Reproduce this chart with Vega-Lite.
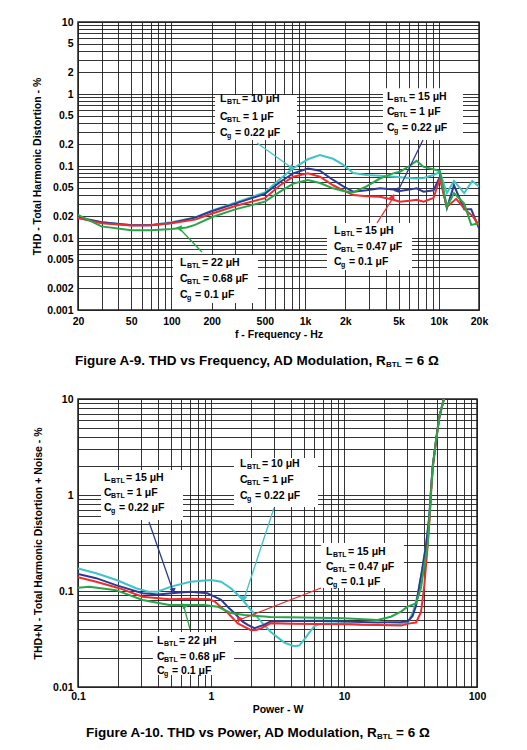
{
  "$schema": "https://vega.github.io/schema/vega-lite/v6.json",
  "background": "white",
  "padding": {"left": 31, "top": 16, "right": 5, "bottom": 5},
  "spacing": 89,
  "bounds": "flush",
  "datasets": {
    "topCurves": [
      {"config": "10µH/1µF/0.22µF", "freq": 20, "thd": 0.019},
      {"config": "10µH/1µF/0.22µF", "freq": 30, "thd": 0.0165},
      {"config": "10µH/1µF/0.22µF", "freq": 50, "thd": 0.0152},
      {"config": "10µH/1µF/0.22µF", "freq": 70, "thd": 0.0152},
      {"config": "10µH/1µF/0.22µF", "freq": 100, "thd": 0.0165},
      {"config": "10µH/1µF/0.22µF", "freq": 150, "thd": 0.0192},
      {"config": "10µH/1µF/0.22µF", "freq": 200, "thd": 0.024},
      {"config": "10µH/1µF/0.22µF", "freq": 300, "thd": 0.031},
      {"config": "10µH/1µF/0.22µF", "freq": 500, "thd": 0.043},
      {"config": "10µH/1µF/0.22µF", "freq": 650, "thd": 0.066},
      {"config": "10µH/1µF/0.22µF", "freq": 815, "thd": 0.093},
      {"config": "10µH/1µF/0.22µF", "freq": 1050, "thd": 0.124},
      {"config": "10µH/1µF/0.22µF", "freq": 1290, "thd": 0.142},
      {"config": "10µH/1µF/0.22µF", "freq": 1620, "thd": 0.126},
      {"config": "10µH/1µF/0.22µF", "freq": 1930, "thd": 0.104},
      {"config": "10µH/1µF/0.22µF", "freq": 2290, "thd": 0.08},
      {"config": "10µH/1µF/0.22µF", "freq": 2880, "thd": 0.075},
      {"config": "10µH/1µF/0.22µF", "freq": 3630, "thd": 0.073},
      {"config": "10µH/1µF/0.22µF", "freq": 4570, "thd": 0.071},
      {"config": "10µH/1µF/0.22µF", "freq": 6030, "thd": 0.068},
      {"config": "10µH/1µF/0.22µF", "freq": 6820, "thd": 0.067},
      {"config": "10µH/1µF/0.22µF", "freq": 7700, "thd": 0.068},
      {"config": "10µH/1µF/0.22µF", "freq": 9140, "thd": 0.075},
      {"config": "10µH/1µF/0.22µF", "freq": 10200, "thd": 0.083},
      {"config": "10µH/1µF/0.22µF", "freq": 11500, "thd": 0.042},
      {"config": "10µH/1µF/0.22µF", "freq": 13000, "thd": 0.062},
      {"config": "10µH/1µF/0.22µF", "freq": 15500, "thd": 0.042},
      {"config": "10µH/1µF/0.22µF", "freq": 17800, "thd": 0.062},
      {"config": "10µH/1µF/0.22µF", "freq": 20000, "thd": 0.052},
      {"config": "15µH/1µF/0.22µF", "freq": 20, "thd": 0.0195},
      {"config": "15µH/1µF/0.22µF", "freq": 30, "thd": 0.0165},
      {"config": "15µH/1µF/0.22µF", "freq": 50, "thd": 0.015},
      {"config": "15µH/1µF/0.22µF", "freq": 70, "thd": 0.015},
      {"config": "15µH/1µF/0.22µF", "freq": 100, "thd": 0.0162},
      {"config": "15µH/1µF/0.22µF", "freq": 150, "thd": 0.0192},
      {"config": "15µH/1µF/0.22µF", "freq": 200, "thd": 0.0235},
      {"config": "15µH/1µF/0.22µF", "freq": 300, "thd": 0.03},
      {"config": "15µH/1µF/0.22µF", "freq": 500, "thd": 0.041},
      {"config": "15µH/1µF/0.22µF", "freq": 650, "thd": 0.06},
      {"config": "15µH/1µF/0.22µF", "freq": 815, "thd": 0.079},
      {"config": "15µH/1µF/0.22µF", "freq": 1050, "thd": 0.092},
      {"config": "15µH/1µF/0.22µF", "freq": 1290, "thd": 0.086},
      {"config": "15µH/1µF/0.22µF", "freq": 1620, "thd": 0.064},
      {"config": "15µH/1µF/0.22µF", "freq": 1930, "thd": 0.052},
      {"config": "15µH/1µF/0.22µF", "freq": 2290, "thd": 0.044},
      {"config": "15µH/1µF/0.22µF", "freq": 2880, "thd": 0.046},
      {"config": "15µH/1µF/0.22µF", "freq": 3630, "thd": 0.049},
      {"config": "15µH/1µF/0.22µF", "freq": 4570, "thd": 0.047},
      {"config": "15µH/1µF/0.22µF", "freq": 5120, "thd": 0.045},
      {"config": "15µH/1µF/0.22µF", "freq": 6030, "thd": 0.047},
      {"config": "15µH/1µF/0.22µF", "freq": 6820, "thd": 0.049},
      {"config": "15µH/1µF/0.22µF", "freq": 7700, "thd": 0.044},
      {"config": "15µH/1µF/0.22µF", "freq": 9140, "thd": 0.046},
      {"config": "15µH/1µF/0.22µF", "freq": 10200, "thd": 0.071},
      {"config": "15µH/1µF/0.22µF", "freq": 11500, "thd": 0.026},
      {"config": "15µH/1µF/0.22µF", "freq": 13000, "thd": 0.054},
      {"config": "15µH/1µF/0.22µF", "freq": 15500, "thd": 0.025},
      {"config": "15µH/1µF/0.22µF", "freq": 17500, "thd": 0.025},
      {"config": "15µH/1µF/0.22µF", "freq": 20000, "thd": 0.0136},
      {"config": "15µH/0.47µF/0.1µF", "freq": 20, "thd": 0.019},
      {"config": "15µH/0.47µF/0.1µF", "freq": 30, "thd": 0.016},
      {"config": "15µH/0.47µF/0.1µF", "freq": 50, "thd": 0.0149},
      {"config": "15µH/0.47µF/0.1µF", "freq": 70, "thd": 0.015},
      {"config": "15µH/0.47µF/0.1µF", "freq": 100, "thd": 0.016},
      {"config": "15µH/0.47µF/0.1µF", "freq": 150, "thd": 0.018},
      {"config": "15µH/0.47µF/0.1µF", "freq": 200, "thd": 0.0217},
      {"config": "15µH/0.47µF/0.1µF", "freq": 300, "thd": 0.0278},
      {"config": "15µH/0.47µF/0.1µF", "freq": 500, "thd": 0.0357},
      {"config": "15µH/0.47µF/0.1µF", "freq": 650, "thd": 0.054},
      {"config": "15µH/0.47µF/0.1µF", "freq": 815, "thd": 0.071},
      {"config": "15µH/0.47µF/0.1µF", "freq": 1050, "thd": 0.079},
      {"config": "15µH/0.47µF/0.1µF", "freq": 1290, "thd": 0.071},
      {"config": "15µH/0.47µF/0.1µF", "freq": 1620, "thd": 0.054},
      {"config": "15µH/0.47µF/0.1µF", "freq": 1930, "thd": 0.046},
      {"config": "15µH/0.47µF/0.1µF", "freq": 2290, "thd": 0.0395},
      {"config": "15µH/0.47µF/0.1µF", "freq": 2880, "thd": 0.038},
      {"config": "15µH/0.47µF/0.1µF", "freq": 3630, "thd": 0.0375},
      {"config": "15µH/0.47µF/0.1µF", "freq": 4570, "thd": 0.034},
      {"config": "15µH/0.47µF/0.1µF", "freq": 5120, "thd": 0.032},
      {"config": "15µH/0.47µF/0.1µF", "freq": 6030, "thd": 0.033},
      {"config": "15µH/0.47µF/0.1µF", "freq": 6820, "thd": 0.034},
      {"config": "15µH/0.47µF/0.1µF", "freq": 7700, "thd": 0.032},
      {"config": "15µH/0.47µF/0.1µF", "freq": 9140, "thd": 0.036},
      {"config": "15µH/0.47µF/0.1µF", "freq": 10200, "thd": 0.067},
      {"config": "15µH/0.47µF/0.1µF", "freq": 11500, "thd": 0.027},
      {"config": "15µH/0.47µF/0.1µF", "freq": 13500, "thd": 0.035},
      {"config": "15µH/0.47µF/0.1µF", "freq": 16000, "thd": 0.024},
      {"config": "15µH/0.47µF/0.1µF", "freq": 18000, "thd": 0.02},
      {"config": "15µH/0.47µF/0.1µF", "freq": 20000, "thd": 0.015},
      {"config": "22µH/0.68µF/0.1µF", "freq": 20, "thd": 0.021},
      {"config": "22µH/0.68µF/0.1µF", "freq": 30, "thd": 0.0145},
      {"config": "22µH/0.68µF/0.1µF", "freq": 50, "thd": 0.0128},
      {"config": "22µH/0.68µF/0.1µF", "freq": 70, "thd": 0.0128},
      {"config": "22µH/0.68µF/0.1µF", "freq": 100, "thd": 0.0133},
      {"config": "22µH/0.68µF/0.1µF", "freq": 130, "thd": 0.014},
      {"config": "22µH/0.68µF/0.1µF", "freq": 150, "thd": 0.0152},
      {"config": "22µH/0.68µF/0.1µF", "freq": 200, "thd": 0.0194},
      {"config": "22µH/0.68µF/0.1µF", "freq": 300, "thd": 0.025},
      {"config": "22µH/0.68µF/0.1µF", "freq": 500, "thd": 0.032},
      {"config": "22µH/0.68µF/0.1µF", "freq": 650, "thd": 0.044},
      {"config": "22µH/0.68µF/0.1µF", "freq": 815, "thd": 0.057},
      {"config": "22µH/0.68µF/0.1µF", "freq": 1050, "thd": 0.064},
      {"config": "22µH/0.68µF/0.1µF", "freq": 1290, "thd": 0.058},
      {"config": "22µH/0.68µF/0.1µF", "freq": 1620, "thd": 0.049},
      {"config": "22µH/0.68µF/0.1µF", "freq": 1930, "thd": 0.045},
      {"config": "22µH/0.68µF/0.1µF", "freq": 2290, "thd": 0.043},
      {"config": "22µH/0.68µF/0.1µF", "freq": 2880, "thd": 0.052},
      {"config": "22µH/0.68µF/0.1µF", "freq": 3630, "thd": 0.067},
      {"config": "22µH/0.68µF/0.1µF", "freq": 4570, "thd": 0.079},
      {"config": "22µH/0.68µF/0.1µF", "freq": 5120, "thd": 0.083},
      {"config": "22µH/0.68µF/0.1µF", "freq": 6030, "thd": 0.1},
      {"config": "22µH/0.68µF/0.1µF", "freq": 6820, "thd": 0.118},
      {"config": "22µH/0.68µF/0.1µF", "freq": 7700, "thd": 0.097},
      {"config": "22µH/0.68µF/0.1µF", "freq": 9140, "thd": 0.09},
      {"config": "22µH/0.68µF/0.1µF", "freq": 10200, "thd": 0.085},
      {"config": "22µH/0.68µF/0.1µF", "freq": 11500, "thd": 0.027},
      {"config": "22µH/0.68µF/0.1µF", "freq": 13000, "thd": 0.042},
      {"config": "22µH/0.68µF/0.1µF", "freq": 15500, "thd": 0.03},
      {"config": "22µH/0.68µF/0.1µF", "freq": 17500, "thd": 0.0152},
      {"config": "22µH/0.68µF/0.1µF", "freq": 20000, "thd": 0.016}
    ],
    "topBoxes": [
      {"freq": 212, "freq2": 870, "thd": 0.2296, "thd2": 0.968},
      {"freq": 3826, "freq2": 15180, "thd": 0.2296, "thd2": 1.2},
      {"freq": 102.7, "freq2": 444, "thd": 0.00125, "thd2": 0.0058},
      {"freq": 1458, "freq2": 6306, "thd": 0.0036, "thd2": 0.01615}
    ],
    "topArrows": [
      {"config": "10µH/1µF/0.22µF", "arrow": "t1", "freq": 798, "thd": 0.0938, "freq2": 437, "thd2": 0.2085},
      {"config": "15µH/1µF/0.22µF", "arrow": "t2", "freq": 4954, "thd": 0.045, "freq2": 7620, "thd2": 0.2296},
      {"config": "15µH/0.47µF/0.1µF", "arrow": "t3", "freq": 4546, "thd": 0.036, "freq2": 3452, "thd2": 0.01615},
      {"config": "22µH/0.68µF/0.1µF", "arrow": "t4", "freq": 115.9, "thd": 0.01334, "freq2": 169, "thd2": 0.0064}
    ],
    "topLabels": [
      {"freq": 231, "thd": 0.852, "line": 1, "value": "= 10 μH"},
      {"freq": 231, "thd": 0.48, "line": 2, "value": "= 1 μF"},
      {"freq": 231, "thd": 0.287, "line": 3, "value": "= 0.22 μF"},
      {"freq": 4099, "thd": 0.908, "line": 1, "value": "= 15 μH"},
      {"freq": 4099, "thd": 0.562, "line": 2, "value": "= 1 μF"},
      {"freq": 4099, "thd": 0.337, "line": 3, "value": "= 0.22 μF"},
      {"freq": 115.9, "thd": 0.0045, "line": 1, "value": "= 22 μH"},
      {"freq": 115.9, "thd": 0.0027, "line": 2, "value": "= 0.68 μF"},
      {"freq": 115.9, "thd": 0.00162, "line": 3, "value": "= 0.1 μF"},
      {"freq": 1646, "thd": 0.0125, "line": 1, "value": "= 15 μH"},
      {"freq": 1646, "thd": 0.0075, "line": 2, "value": "= 0.47 μF"},
      {"freq": 1646, "thd": 0.00464, "line": 3, "value": "= 0.1 μF"}
    ],
    "topCaption": [
      {"freq": 20, "thd": 0.001, "main": "Figure A-9. THD vs Frequency, AD Modulation, R", "sub": "BTL", "rest": "= 6 Ω"}
    ],
    "botCurves": [
      {"config": "10µH/1µF/0.22µF", "power": 0.1, "thd": 0.172},
      {"config": "10µH/1µF/0.22µF", "power": 0.137, "thd": 0.153},
      {"config": "10µH/1µF/0.22µF", "power": 0.195, "thd": 0.13},
      {"config": "10µH/1µF/0.22µF", "power": 0.273, "thd": 0.107},
      {"config": "10µH/1µF/0.22µF", "power": 0.343, "thd": 0.098},
      {"config": "10µH/1µF/0.22µF", "power": 0.4, "thd": 0.099},
      {"config": "10µH/1µF/0.22µF", "power": 0.5, "thd": 0.111},
      {"config": "10µH/1µF/0.22µF", "power": 0.7, "thd": 0.125},
      {"config": "10µH/1µF/0.22µF", "power": 1.0, "thd": 0.13},
      {"config": "10µH/1µF/0.22µF", "power": 1.19, "thd": 0.125},
      {"config": "10µH/1µF/0.22µF", "power": 1.41, "thd": 0.107},
      {"config": "10µH/1µF/0.22µF", "power": 1.68, "thd": 0.085},
      {"config": "10µH/1µF/0.22µF", "power": 2.0, "thd": 0.063},
      {"config": "10µH/1µF/0.22µF", "power": 2.38, "thd": 0.048},
      {"config": "10µH/1µF/0.22µF", "power": 2.8, "thd": 0.0377},
      {"config": "10µH/1µF/0.22µF", "power": 3.56, "thd": 0.029},
      {"config": "10µH/1µF/0.22µF", "power": 4.2, "thd": 0.0266},
      {"config": "10µH/1µF/0.22µF", "power": 4.6, "thd": 0.027},
      {"config": "10µH/1µF/0.22µF", "power": 5.0, "thd": 0.031},
      {"config": "10µH/1µF/0.22µF", "power": 5.5, "thd": 0.037},
      {"config": "10µH/1µF/0.22µF", "power": 6.0, "thd": 0.043},
      {"config": "10µH/1µF/0.22µF", "power": 6.5, "thd": 0.045},
      {"config": "10µH/1µF/0.22µF", "power": 7.5, "thd": 0.046},
      {"config": "10µH/1µF/0.22µF", "power": 10, "thd": 0.046},
      {"config": "10µH/1µF/0.22µF", "power": 13.4, "thd": 0.0445},
      {"config": "10µH/1µF/0.22µF", "power": 21, "thd": 0.0443},
      {"config": "10µH/1µF/0.22µF", "power": 30, "thd": 0.046},
      {"config": "10µH/1µF/0.22µF", "power": 33, "thd": 0.06},
      {"config": "10µH/1µF/0.22µF", "power": 35.8, "thd": 0.091},
      {"config": "10µH/1µF/0.22µF", "power": 38.5, "thd": 0.16},
      {"config": "10µH/1µF/0.22µF", "power": 41.4, "thd": 0.3},
      {"config": "10µH/1µF/0.22µF", "power": 43.8, "thd": 0.6},
      {"config": "10µH/1µF/0.22µF", "power": 45.1, "thd": 1.13},
      {"config": "10µH/1µF/0.22µF", "power": 46.4, "thd": 1.97},
      {"config": "10µH/1µF/0.22µF", "power": 49.2, "thd": 3.74},
      {"config": "10µH/1µF/0.22µF", "power": 52.1, "thd": 6.55},
      {"config": "10µH/1µF/0.22µF", "power": 56.8, "thd": 10.5},
      {"config": "15µH/1µF/0.22µF", "power": 0.1, "thd": 0.15},
      {"config": "15µH/1µF/0.22µF", "power": 0.137, "thd": 0.136},
      {"config": "15µH/1µF/0.22µF", "power": 0.193, "thd": 0.115},
      {"config": "15µH/1µF/0.22µF", "power": 0.306, "thd": 0.0946},
      {"config": "15µH/1µF/0.22µF", "power": 0.4, "thd": 0.092},
      {"config": "15µH/1µF/0.22µF", "power": 0.5, "thd": 0.095},
      {"config": "15µH/1µF/0.22µF", "power": 0.7, "thd": 0.098},
      {"config": "15µH/1µF/0.22µF", "power": 0.94, "thd": 0.0946},
      {"config": "15µH/1µF/0.22µF", "power": 1.09, "thd": 0.086},
      {"config": "15µH/1µF/0.22µF", "power": 1.19, "thd": 0.081},
      {"config": "15µH/1µF/0.22µF", "power": 1.37, "thd": 0.066},
      {"config": "15µH/1µF/0.22µF", "power": 1.5, "thd": 0.059},
      {"config": "15µH/1µF/0.22µF", "power": 1.73, "thd": 0.048},
      {"config": "15µH/1µF/0.22µF", "power": 1.89, "thd": 0.0443},
      {"config": "15µH/1µF/0.22µF", "power": 2.12, "thd": 0.041},
      {"config": "15µH/1µF/0.22µF", "power": 2.5, "thd": 0.0443},
      {"config": "15µH/1µF/0.22µF", "power": 2.8, "thd": 0.048},
      {"config": "15µH/1µF/0.22µF", "power": 4, "thd": 0.0488},
      {"config": "15µH/1µF/0.22µF", "power": 7.5, "thd": 0.049},
      {"config": "15µH/1µF/0.22µF", "power": 10, "thd": 0.048},
      {"config": "15µH/1µF/0.22µF", "power": 17.9, "thd": 0.047},
      {"config": "15µH/1µF/0.22µF", "power": 26.8, "thd": 0.0475},
      {"config": "15µH/1µF/0.22µF", "power": 30.1, "thd": 0.048},
      {"config": "15µH/1µF/0.22µF", "power": 32.8, "thd": 0.055},
      {"config": "15µH/1µF/0.22µF", "power": 34.8, "thd": 0.07},
      {"config": "15µH/1µF/0.22µF", "power": 35.8, "thd": 0.09},
      {"config": "15µH/1µF/0.22µF", "power": 38.5, "thd": 0.16},
      {"config": "15µH/1µF/0.22µF", "power": 41.4, "thd": 0.3},
      {"config": "15µH/1µF/0.22µF", "power": 43.8, "thd": 0.6},
      {"config": "15µH/1µF/0.22µF", "power": 45.1, "thd": 1.13},
      {"config": "15µH/1µF/0.22µF", "power": 46.4, "thd": 1.97},
      {"config": "15µH/1µF/0.22µF", "power": 49.2, "thd": 3.74},
      {"config": "15µH/1µF/0.22µF", "power": 52.1, "thd": 6.55},
      {"config": "15µH/1µF/0.22µF", "power": 56.8, "thd": 10.5},
      {"config": "15µH/0.47µF/0.1µF", "power": 0.1, "thd": 0.139},
      {"config": "15µH/0.47µF/0.1µF", "power": 0.137, "thd": 0.125},
      {"config": "15µH/0.47µF/0.1µF", "power": 0.204, "thd": 0.107},
      {"config": "15µH/0.47µF/0.1µF", "power": 0.306, "thd": 0.087},
      {"config": "15µH/0.47µF/0.1µF", "power": 0.486, "thd": 0.082},
      {"config": "15µH/0.47µF/0.1µF", "power": 0.7, "thd": 0.083},
      {"config": "15µH/0.47µF/0.1µF", "power": 0.97, "thd": 0.082},
      {"config": "15µH/0.47µF/0.1µF", "power": 1.06, "thd": 0.078},
      {"config": "15µH/0.47µF/0.1µF", "power": 1.34, "thd": 0.059},
      {"config": "15µH/0.47µF/0.1µF", "power": 1.59, "thd": 0.046},
      {"config": "15µH/0.47µF/0.1µF", "power": 2.0, "thd": 0.039},
      {"config": "15µH/0.47µF/0.1µF", "power": 2.18, "thd": 0.0392},
      {"config": "15µH/0.47µF/0.1µF", "power": 2.38, "thd": 0.0408},
      {"config": "15µH/0.47µF/0.1µF", "power": 2.8, "thd": 0.046},
      {"config": "15µH/0.47µF/0.1µF", "power": 4, "thd": 0.0455},
      {"config": "15µH/0.47µF/0.1µF", "power": 10, "thd": 0.045},
      {"config": "15µH/0.47µF/0.1µF", "power": 17.9, "thd": 0.0443},
      {"config": "15µH/0.47µF/0.1µF", "power": 26.8, "thd": 0.0436},
      {"config": "15µH/0.47µF/0.1µF", "power": 31.3, "thd": 0.046},
      {"config": "15µH/0.47µF/0.1µF", "power": 34.8, "thd": 0.047},
      {"config": "15µH/0.47µF/0.1µF", "power": 37.9, "thd": 0.06},
      {"config": "15µH/0.47µF/0.1µF", "power": 40.2, "thd": 0.115},
      {"config": "15µH/0.47µF/0.1µF", "power": 42.6, "thd": 0.3},
      {"config": "15µH/0.47µF/0.1µF", "power": 44.2, "thd": 0.6},
      {"config": "15µH/0.47µF/0.1µF", "power": 45.3, "thd": 1.13},
      {"config": "15µH/0.47µF/0.1µF", "power": 46.6, "thd": 1.97},
      {"config": "15µH/0.47µF/0.1µF", "power": 49.3, "thd": 3.74},
      {"config": "15µH/0.47µF/0.1µF", "power": 52.2, "thd": 6.55},
      {"config": "15µH/0.47µF/0.1µF", "power": 56.8, "thd": 10.5},
      {"config": "22µH/0.68µF/0.1µF", "power": 0.1, "thd": 0.108},
      {"config": "22µH/0.68µF/0.1µF", "power": 0.122, "thd": 0.111},
      {"config": "22µH/0.68µF/0.1µF", "power": 0.193, "thd": 0.102},
      {"config": "22µH/0.68µF/0.1µF", "power": 0.306, "thd": 0.0806},
      {"config": "22µH/0.68µF/0.1µF", "power": 0.486, "thd": 0.0715},
      {"config": "22µH/0.68µF/0.1µF", "power": 0.65, "thd": 0.0715},
      {"config": "22µH/0.68µF/0.1µF", "power": 0.89, "thd": 0.0715},
      {"config": "22µH/0.68µF/0.1µF", "power": 1.12, "thd": 0.0687},
      {"config": "22µH/0.68µF/0.1µF", "power": 1.41, "thd": 0.059},
      {"config": "22µH/0.68µF/0.1µF", "power": 1.78, "thd": 0.0563},
      {"config": "22µH/0.68µF/0.1µF", "power": 2.8, "thd": 0.0535},
      {"config": "22µH/0.68µF/0.1µF", "power": 5, "thd": 0.053},
      {"config": "22µH/0.68µF/0.1µF", "power": 10, "thd": 0.052},
      {"config": "22µH/0.68µF/0.1µF", "power": 17.9, "thd": 0.05},
      {"config": "22µH/0.68µF/0.1µF", "power": 22.5, "thd": 0.054},
      {"config": "22µH/0.68µF/0.1µF", "power": 26.8, "thd": 0.061},
      {"config": "22µH/0.68µF/0.1µF", "power": 30.1, "thd": 0.0687},
      {"config": "22µH/0.68µF/0.1µF", "power": 34.8, "thd": 0.0744},
      {"config": "22µH/0.68µF/0.1µF", "power": 37.9, "thd": 0.107},
      {"config": "22µH/0.68µF/0.1µF", "power": 40.2, "thd": 0.187},
      {"config": "22µH/0.68µF/0.1µF", "power": 42.6, "thd": 0.3},
      {"config": "22µH/0.68µF/0.1µF", "power": 43.9, "thd": 0.6},
      {"config": "22µH/0.68µF/0.1µF", "power": 45.2, "thd": 1.13},
      {"config": "22µH/0.68µF/0.1µF", "power": 46.5, "thd": 1.97},
      {"config": "22µH/0.68µF/0.1µF", "power": 49.3, "thd": 3.74},
      {"config": "22µH/0.68µF/0.1µF", "power": 52.2, "thd": 6.55},
      {"config": "22µH/0.68µF/0.1µF", "power": 56.8, "thd": 10.5}
    ],
    "botBoxes": [
      {"power": 0.149, "power2": 0.616, "thd": 0.549, "thd2": 1.82},
      {"power": 1.489, "power2": 6.375, "thd": 0.75, "thd2": 2.43},
      {"power": 6.71, "power2": 28.2, "thd": 0.1075, "thd2": 0.316},
      {"power": 0.366, "power2": 1.489, "thd": 0.01334, "thd2": 0.0374}
    ],
    "botArrows": [
      {"config": "15µH/1µF/0.22µF", "arrow": "b1", "power": 0.518, "thd": 0.1, "power2": 0.342, "thd2": 0.5236},
      {"config": "10µH/1µF/0.22µF", "arrow": "b2", "power": 1.771, "thd": 0.0825, "power2": 2.976, "thd2": 0.732},
      {"config": "15µH/0.47µF/0.1µF", "arrow": "b3", "power": 1.623, "thd": 0.0499, "power2": 6.71, "thd2": 0.1075},
      {"config": "22µH/0.68µF/0.1µF", "arrow": "b4", "power": 0.627, "thd": 0.068, "power2": 0.695, "thd2": 0.0402}
    ],
    "botLabels": [
      {"power": 0.157, "thd": 1.503, "line": 1, "value": "= 15 μH"},
      {"power": 0.157, "thd": 1.049, "line": 2, "value": "= 1 μF"},
      {"power": 0.157, "thd": 0.732, "line": 3, "value": "= 0.22 μF"},
      {"power": 1.652, "thd": 2.1, "line": 1, "value": "= 10 μH"},
      {"power": 1.652, "thd": 1.43, "line": 2, "value": "= 1 μF"},
      {"power": 1.652, "thd": 0.976, "line": 3, "value": "= 0.22 μF"},
      {"power": 7.32, "thd": 0.255, "line": 1, "value": "= 15 μH"},
      {"power": 7.32, "thd": 0.178, "line": 2, "value": "= 0.47 μF"},
      {"power": 7.32, "thd": 0.124, "line": 3, "value": "= 0.1 μF"},
      {"power": 0.393, "thd": 0.0301, "line": 1, "value": "= 22 μH"},
      {"power": 0.393, "thd": 0.0205, "line": 2, "value": "= 0.68 μF"},
      {"power": 0.393, "thd": 0.0147, "line": 3, "value": "= 0.1 μF"}
    ],
    "botCaption": [
      {"power": 0.1, "thd": 0.01, "main": "Figure A-10. THD vs Power, AD Modulation, R", "sub": "BTL", "rest": "= 6 Ω"}
    ]
  },
  "vconcat": [
    {
      "width": 401,
      "height": 288,
      "encoding": {
        "x": {
          "field": "freq", "type": "quantitative", "title": "f - Frequency - Hz",
          "scale": {"type": "log", "domain": [20, 20000], "nice": false},
          "axis": {
            "values": [20, 30, 40, 50, 60, 70, 80, 90, 100, 200, 300, 400, 500, 600, 700, 800, 900, 1000, 2000, 3000, 4000, 5000, 6000, 7000, 8000, 9000, 10000, 20000],
            "labelExpr": "indexof([20,50,100,200,500,1000,2000,5000,10000,20000], datum.value) >= 0 ? (datum.value >= 1000 ? (datum.value/1000) + 'k' : '' + datum.value) : ''",
            "labelOverlap": false, "labelFlush": false, "labelPadding": 6, "titlePadding": 3
          }
        },
        "y": {
          "field": "thd", "type": "quantitative", "title": "THD - Total Harmonic Distortion - %",
          "scale": {"type": "log", "domain": [0.001, 10], "nice": false},
          "axis": {
            "values": [0.001, 0.002, 0.003, 0.004, 0.005, 0.006, 0.007, 0.008, 0.009, 0.01, 0.02, 0.03, 0.04, 0.05, 0.06, 0.07, 0.08, 0.09, 0.1, 0.2, 0.3, 0.4, 0.5, 0.6, 0.7, 0.8, 0.9, 1, 2, 3, 4, 5, 6, 7, 8, 9, 10],
            "labelExpr": "indexof([0.001,0.002,0.005,0.01,0.02,0.05,0.1,0.2,0.5,1,2,5,10], datum.value) >= 0 ? '' + datum.value : ''",
            "labelOverlap": false, "labelFlush": false, "labelPadding": 5, "titlePadding": 4
          }
        }
      },
      "layer": [
        {
          "data": {"name": "topBoxes"},
          "mark": {"type": "rect", "fill": "white", "strokeWidth": 0},
          "encoding": {"x2": {"field": "freq2"}, "y2": {"field": "thd2"}}
        },
        {
          "data": {"name": "topCurves"},
          "mark": {"type": "line", "strokeWidth": 2, "clip": true},
          "encoding": {
            "color": {"field": "config", "type": "nominal", "legend": null,
              "scale": {"domain": ["10µH/1µF/0.22µF", "15µH/1µF/0.22µF", "15µH/0.47µF/0.1µF", "22µH/0.68µF/0.1µF"], "range": ["#3fc4c4", "#2e3a92", "#ee2b30", "#27a548"]}}
          }
        },
        {
          "data": {"name": "topArrows"},
          "mark": {"type": "rule", "strokeWidth": 1.3},
          "encoding": {
            "x2": {"field": "freq2"}, "y2": {"field": "thd2"},
            "color": {"field": "config", "type": "nominal", "legend": null}
          }
        },
        {
          "data": {"name": "topArrows"},
          "mark": {"type": "point", "shape": "triangle-up", "filled": true, "size": 40, "opacity": 1},
          "encoding": {
            "color": {"field": "config", "type": "nominal", "legend": null},
            "angle": {"field": "arrow", "type": "nominal", "legend": null,
              "scale": {"domain": ["t1", "t2", "t3", "t4"], "range": [125.5, 206, 32.6, 316]}}
          }
        },
        {
          "data": {"name": "topLabels"},
          "mark": {"type": "text", "align": "left", "baseline": "middle", "fontSize": 10.5, "fontWeight": "bold", "font": "Liberation Sans"},
          "encoding": {"text": {"condition": {"test": "datum.line === 1", "value": "L"}, "value": "C"}}
        },
        {
          "data": {"name": "topLabels"},
          "mark": {"type": "text", "align": "left", "baseline": "middle", "fontSize": 7, "fontWeight": "bold", "font": "Liberation Sans", "dx": 7, "dy": 3},
          "encoding": {"text": {"condition": {"test": "datum.line === 3", "value": "g"}, "value": "BTL"}}
        },
        {
          "data": {"name": "topLabels"},
          "transform": [{"filter": "datum.line === 1"}],
          "mark": {"type": "text", "align": "left", "baseline": "middle", "fontSize": 10.5, "fontWeight": "bold", "font": "Liberation Sans", "dx": 22},
          "encoding": {"text": {"field": "value"}}
        },
        {
          "data": {"name": "topLabels"},
          "transform": [{"filter": "datum.line === 2"}],
          "mark": {"type": "text", "align": "left", "baseline": "middle", "fontSize": 10.5, "fontWeight": "bold", "font": "Liberation Sans", "dx": 23},
          "encoding": {"text": {"field": "value"}}
        },
        {
          "data": {"name": "topLabels"},
          "transform": [{"filter": "datum.line === 3"}],
          "mark": {"type": "text", "align": "left", "baseline": "middle", "fontSize": 10.5, "fontWeight": "bold", "font": "Liberation Sans", "dx": 15},
          "encoding": {"text": {"field": "value"}}
        },
        {
          "data": {"name": "topCaption"},
          "mark": {"type": "text", "align": "left", "baseline": "middle", "fontSize": 13.5, "fontWeight": "bold", "font": "Liberation Sans", "dx": -3, "dy": 51},
          "encoding": {"text": {"field": "main"}}
        },
        {
          "data": {"name": "topCaption"},
          "mark": {"type": "text", "align": "left", "baseline": "middle", "fontSize": 8, "fontWeight": "bold", "font": "Liberation Sans", "dx": 308, "dy": 55},
          "encoding": {"text": {"field": "sub"}}
        },
        {
          "data": {"name": "topCaption"},
          "mark": {"type": "text", "align": "left", "baseline": "middle", "fontSize": 13.5, "fontWeight": "bold", "font": "Liberation Sans", "dx": 327, "dy": 51},
          "encoding": {"text": {"field": "rest"}}
        }
      ]
    },
    {
      "width": 399,
      "height": 288,
      "encoding": {
        "x": {
          "field": "power", "type": "quantitative", "title": "Power - W",
          "scale": {"type": "log", "domain": [0.1, 100], "nice": false},
          "axis": {
            "values": [0.1, 0.2, 0.3, 0.4, 0.5, 0.6, 0.7, 0.8, 0.9, 1, 2, 3, 4, 5, 6, 7, 8, 9, 10, 20, 30, 40, 50, 60, 70, 80, 90, 100],
            "labelExpr": "indexof([0.1,1,10,100], datum.value) >= 0 ? '' + datum.value : ''",
            "labelOverlap": false, "labelFlush": false, "labelPadding": 4, "titlePadding": 3
          }
        },
        "y": {
          "field": "thd", "type": "quantitative", "title": "THD+N - Total Harmonic Distortion + Noise - %",
          "scale": {"type": "log", "domain": [0.01, 10], "nice": false},
          "axis": {
            "values": [0.01, 0.02, 0.03, 0.04, 0.05, 0.06, 0.07, 0.08, 0.09, 0.1, 0.2, 0.3, 0.4, 0.5, 0.6, 0.7, 0.8, 0.9, 1, 2, 3, 4, 5, 6, 7, 8, 9, 10],
            "labelExpr": "indexof([0.01,0.1,1,10], datum.value) >= 0 ? '' + datum.value : ''",
            "labelOverlap": false, "labelFlush": false, "labelPadding": 5, "titlePadding": 9
          }
        }
      },
      "layer": [
        {
          "data": {"name": "botBoxes"},
          "mark": {"type": "rect", "fill": "white", "strokeWidth": 0},
          "encoding": {"x2": {"field": "power2"}, "y2": {"field": "thd2"}}
        },
        {
          "data": {"name": "botCurves"},
          "mark": {"type": "line", "strokeWidth": 2, "clip": true},
          "encoding": {
            "color": {"field": "config", "type": "nominal", "legend": null,
              "scale": {"domain": ["10µH/1µF/0.22µF", "15µH/1µF/0.22µF", "15µH/0.47µF/0.1µF", "22µH/0.68µF/0.1µF"], "range": ["#3fc4c4", "#2e3a92", "#ee2b30", "#27a548"]}}
          }
        },
        {
          "data": {"name": "botArrows"},
          "mark": {"type": "rule", "strokeWidth": 1.3},
          "encoding": {
            "x2": {"field": "power2"}, "y2": {"field": "thd2"},
            "color": {"field": "config", "type": "nominal", "legend": null}
          }
        },
        {
          "data": {"name": "botArrows"},
          "mark": {"type": "point", "shape": "triangle-up", "filled": true, "size": 40, "opacity": 1},
          "encoding": {
            "color": {"field": "config", "type": "nominal", "legend": null},
            "angle": {"field": "arrow", "type": "nominal", "legend": null,
              "scale": {"domain": ["b1", "b2", "b3", "b4"], "range": [160.8, 198.2, 248.7, 344.7]}}
          }
        },
        {
          "data": {"name": "botLabels"},
          "mark": {"type": "text", "align": "left", "baseline": "middle", "fontSize": 10.5, "fontWeight": "bold", "font": "Liberation Sans"},
          "encoding": {"text": {"condition": {"test": "datum.line === 1", "value": "L"}, "value": "C"}}
        },
        {
          "data": {"name": "botLabels"},
          "mark": {"type": "text", "align": "left", "baseline": "middle", "fontSize": 7, "fontWeight": "bold", "font": "Liberation Sans", "dx": 7, "dy": 3},
          "encoding": {"text": {"condition": {"test": "datum.line === 3", "value": "g"}, "value": "BTL"}}
        },
        {
          "data": {"name": "botLabels"},
          "transform": [{"filter": "datum.line === 1"}],
          "mark": {"type": "text", "align": "left", "baseline": "middle", "fontSize": 10.5, "fontWeight": "bold", "font": "Liberation Sans", "dx": 22},
          "encoding": {"text": {"field": "value"}}
        },
        {
          "data": {"name": "botLabels"},
          "transform": [{"filter": "datum.line === 2"}],
          "mark": {"type": "text", "align": "left", "baseline": "middle", "fontSize": 10.5, "fontWeight": "bold", "font": "Liberation Sans", "dx": 23},
          "encoding": {"text": {"field": "value"}}
        },
        {
          "data": {"name": "botLabels"},
          "transform": [{"filter": "datum.line === 3"}],
          "mark": {"type": "text", "align": "left", "baseline": "middle", "fontSize": 10.5, "fontWeight": "bold", "font": "Liberation Sans", "dx": 15},
          "encoding": {"text": {"field": "value"}}
        },
        {
          "data": {"name": "botCaption"},
          "mark": {"type": "text", "align": "left", "baseline": "middle", "fontSize": 13.5, "fontWeight": "bold", "font": "Liberation Sans", "dx": 8, "dy": 46},
          "encoding": {"text": {"field": "main"}}
        },
        {
          "data": {"name": "botCaption"},
          "mark": {"type": "text", "align": "left", "baseline": "middle", "fontSize": 8, "fontWeight": "bold", "font": "Liberation Sans", "dx": 299, "dy": 50},
          "encoding": {"text": {"field": "sub"}}
        },
        {
          "data": {"name": "botCaption"},
          "mark": {"type": "text", "align": "left", "baseline": "middle", "fontSize": 13.5, "fontWeight": "bold", "font": "Liberation Sans", "dx": 318, "dy": 46},
          "encoding": {"text": {"field": "rest"}}
        }
      ]
    }
  ],
  "config": {
    "font": "Liberation Sans",
    "view": {"stroke": "#222", "strokeWidth": 1.5},
    "axis": {
      "grid": true, "gridColor": "#1e1e1e", "gridWidth": 0.9, "gridOpacity": 1,
      "domain": false, "ticks": false,
      "labelFont": "Liberation Sans", "labelFontSize": 10.5, "labelFontWeight": "bold", "labelColor": "#000",
      "titleFont": "Liberation Sans", "titleFontSize": 10.5, "titleFontWeight": "bold", "titleColor": "#000"
    },
    "text": {"color": "#000"}
  }
}
